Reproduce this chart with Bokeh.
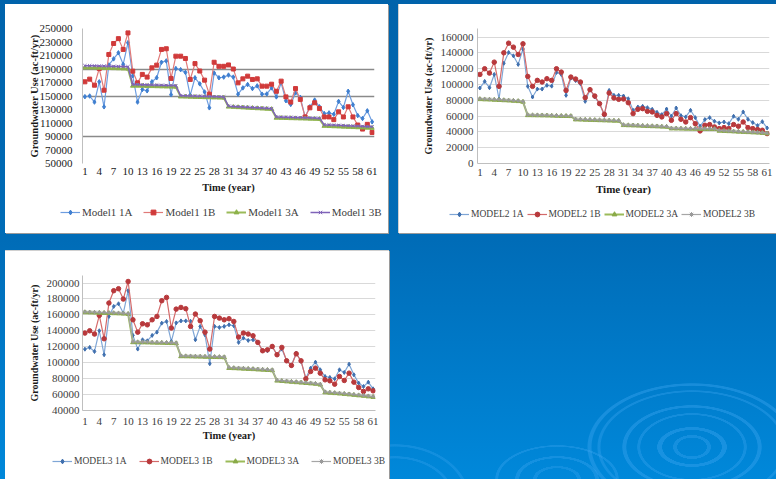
from bokeh.plotting import figure
from bokeh.models import FixedTicker, Legend, LegendItem, Range1d, ColumnDataSource, Spacer
from bokeh.layouts import column, row
from bokeh.embed import file_html
from bokeh.resources import INLINE

# ---------------- data ----------------
years = list(range(1, 62))
x_tick_labels = [1, 4, 7, 10, 13, 16, 19, 22, 25, 28, 31, 34, 37, 40, 43, 46, 49, 52, 55, 58, 61]

m1_names = ["Model1 1A", "Model1 1B", "Model1 3A", "Model1 3B"]
m1_1a = [149000, 150000, 141000, 171000, 134000, 196000, 205000, 214000, 197000, 229000,
         180000, 141000, 159600, 157700, 171000, 177000, 200000, 202000, 152000, 190700,
         189000, 185000, 151000, 177000, 168000, 156000, 132500, 184000, 177000, 178000,
         181000, 178000, 152700, 162000, 167000, 161000, 165000, 152700, 153000, 162000,
         148700, 169500, 143000, 137500, 154700, 148000, 119000, 134000, 144000, 134000,
         124000, 125000, 123000, 142000, 133000, 157000, 137000, 121000, 116700, 128000, 111700]
m1_1b = [171000, 175000, 166000, 190700, 158600, 211500, 227800, 235000, 219000, 243500,
         186800, 169500, 182000, 178000, 191700, 195700, 219000, 220000, 176000, 209000,
         209000, 205600, 174500, 198000, 187000, 173500, 152700, 200000, 194000, 194000,
         196000, 190000, 169500, 175400, 179400, 174500, 175400, 164600, 164600, 167500,
         157000, 172000, 148700, 141000, 161000, 145000, 119000, 132500, 140000, 131500,
         119000, 119000, 115000, 126500, 119000, 134000, 119000, 107000, 101000, 108000, 96000]
m1_3a = [192000, 192000, 191800, 191600, 191400, 191200, 191000, 190800, 190500, 190200,
         165000, 165000, 164800, 164600, 164400, 164200, 164000, 163800, 163600, 163400,
         149000, 148800, 148600, 148400, 148200, 148000, 147800, 147600, 147400, 147200,
         134000, 133600, 133200, 132800, 132400, 132000, 131600, 131200, 130800, 130400,
         117500, 117300, 117100, 116900, 116700, 116500, 116300, 116100, 115900, 115700,
         105500, 105200, 104900, 104600, 104300, 104000, 103700, 103400, 103100, 102800, 102500]
m1_3b = [195000, 195000, 194800, 194600, 194400, 194200, 194000, 193800, 193600, 193400,
         167000, 167000, 166800, 166600, 166400, 166200, 166000, 165800, 165600, 165400,
         150500, 150300, 150100, 149900, 149700, 149500, 149300, 149100, 148900, 148700,
         135000, 134600, 134200, 133800, 133400, 133000, 132600, 132200, 131800, 131400,
         119000, 118800, 118600, 118400, 118200, 118000, 117800, 117600, 117400, 117200,
         107500, 107200, 106900, 106600, 106300, 106000, 105700, 105400, 105100, 104800, 104500]
m1_y_ticks = [50000, 70000, 90000, 110000, 130000, 150000, 170000, 190000, 210000, 230000, 250000]
m1_grid = [90000, 150000, 190000]

m2_names = ["MODEL2 1A", "MODEL2 1B", "MODEL2 3A", "MODEL2 3B"]
m2_1a = [95600, 104000, 96000, 112800, 81700, 127000, 140600, 136400, 125500, 145000,
         97700, 84200, 94300, 94300, 99000, 98000, 115400, 112800, 86300, 108200,
         105000, 101000, 78700, 93500, 84200, 75800, 61000, 92600, 86300, 86300,
         85500, 82000, 67400, 71600, 72400, 70700, 68600, 64800, 61900, 69000,
         59800, 70300, 60600, 59000, 67400, 58100, 47200, 55600, 58100, 53500,
         51400, 52600, 50500, 59800, 56000, 65300, 56000, 51800, 48000, 53000, 45000]
m2_1b = [112800, 120000, 114500, 128400, 97700, 140200, 152400, 147400, 138100, 151600,
         110300, 97700, 105300, 103200, 107400, 105300, 120000, 115800, 92600, 109500,
         107000, 103200, 83400, 93500, 85500, 75800, 62300, 89300, 83000, 81300,
         81700, 77000, 63200, 68600, 69500, 66100, 65300, 61000, 59000, 63200,
         54700, 63200, 56000, 52600, 58100, 50500, 41300, 48400, 49300, 46300,
         44200, 45500, 44200, 49300, 47200, 52600, 45500, 44200, 43000, 42100, 37900]
m2_3a = [81300, 81000, 80800, 80500, 80200, 79900, 79600, 79200, 78800, 78000,
         61000, 60900, 60800, 60700, 60600, 60400, 60200, 60000, 59900, 59800,
         55600, 55400, 55200, 55000, 54800, 54600, 54400, 54200, 54000, 53900,
         48400, 48200, 48000, 47800, 47500, 47200, 47000, 46800, 46500, 46300,
         44200, 44100, 44000, 43900, 43800, 43700, 43600, 43500, 43400, 43400,
         41300, 41000, 40700, 40400, 40100, 39800, 39500, 39200, 38900, 38500, 37900]
m2_3b = [82000, 81700, 81500, 81200, 80900, 80600, 80300, 79900, 79500, 78700,
         61600, 61500, 61400, 61300, 61200, 61000, 60800, 60600, 60500, 60400,
         56200, 56000, 55800, 55600, 55400, 55200, 55000, 54800, 54600, 54500,
         49000, 48800, 48600, 48400, 48100, 47800, 47600, 47400, 47100, 46900,
         44800, 44700, 44600, 44500, 44400, 44300, 44200, 44100, 44000, 44000,
         41900, 41600, 41300, 41000, 40700, 40400, 40100, 39800, 39500, 39100, 38500]
m2_y_ticks = [0, 20000, 40000, 60000, 80000, 100000, 120000, 140000, 160000]

m3_names = ["MODEL3 1A", "MODEL3 1B", "MODEL3 3A", "MODEL3 3B"]
m3_1a = [117000, 119200, 114100, 140100, 110000, 158100, 170700, 174000, 162300, 190400,
         134300, 117100, 128800, 127500, 134300, 138400, 149700, 151800, 126700, 150000,
         152500, 152500, 152000, 128800, 145600, 135000, 98700, 145600, 144300, 145600,
         147600, 146400, 125500, 130900, 128000, 128800, 125500, 115000, 115000, 120400,
         110000, 117100, 102400, 96600, 112100, 101600, 80600, 93200, 100700, 91100,
         82700, 81500, 79800, 91100, 87800, 98200, 84800, 74400, 70100, 75600, 67200]
m3_1b = [137200, 140100, 136000, 159400, 130100, 174900, 190400, 192900, 179900, 202000,
         153900, 138400, 148900, 147600, 153900, 158100, 177800, 182000, 143500, 167300,
         169400, 167800, 145600, 161100, 152700, 138400, 117100, 158100, 156000, 153900,
         155200, 151800, 132200, 137200, 136000, 133800, 125500, 115000, 116200, 120400,
         110000, 119200, 102400, 96600, 111200, 102400, 79800, 89000, 93200, 86900,
         78500, 77300, 73100, 82700, 77700, 86900, 75600, 68900, 63900, 67200, 64700]
m3_3a = [163100, 162900, 162700, 162500, 162300, 162100, 161900, 161700, 161400, 161000,
         125500, 125400, 125300, 125200, 125000, 124900, 124800, 124600, 124400, 124200,
         107900, 107800, 107700, 107500, 107400, 107200, 107100, 106900, 106800, 106600,
         93200, 92900, 92600, 92300, 92000, 91700, 91300, 91000, 90600, 90300,
         77300, 76800, 76300, 75800, 75300, 74800, 74300, 73800, 73300, 72300,
         62600, 62100, 61600, 61100, 60600, 60000, 59400, 58800, 58200, 57500, 56800]
m3_3b = [163900, 163700, 163500, 163300, 163100, 162900, 162700, 162500, 162200, 161800,
         126300, 126200, 126100, 126000, 125800, 125700, 125600, 125400, 125200, 125000,
         108700, 108600, 108500, 108300, 108200, 108000, 107900, 107700, 107600, 107400,
         94000, 93700, 93400, 93100, 92800, 92500, 92100, 91800, 91400, 91100,
         78100, 77600, 77100, 76600, 76100, 75600, 75100, 74600, 74100, 73100,
         63400, 62900, 62400, 61900, 61400, 60800, 60200, 59600, 59000, 58300, 57600]
m3_y_ticks = [40000, 60000, 80000, 100000, 120000, 140000, 160000, 180000, 200000]

FONT = "Liberation Serif"


def make_panel(cfg):
    p = figure(width=cfg["w"], height=cfg["h"], output_backend="svg", toolbar_location=None,
               x_range=Range1d(0.5, 61.5), y_range=Range1d(cfg["y0"], cfg["y1"]),
               min_border_left=cfg["bl"], min_border_right=cfg["br"],
               min_border_top=cfg["bt"], min_border_bottom=cfg["bb"], frame_align=False)
    p.outline_line_color = None
    p.background_fill_color = "white"
    p.border_fill_color = "white"
    p.styles = {"background": "white"}

    p.xgrid.visible = False
    p.ygrid.ticker = FixedTicker(ticks=cfg["grid"])
    p.ygrid.grid_line_color = cfg["grid_color"]
    p.ygrid.grid_line_width = cfg["grid_width"]

    for ax in (p.xaxis[0], p.yaxis[0]):
        ax.major_tick_out = 0
        ax.major_tick_in = 0
        ax.minor_tick_out = 0
        ax.minor_tick_in = 0
        ax.major_label_text_font = FONT
        ax.major_label_text_font_size = cfg["tick_size"]
        ax.major_label_text_color = cfg["tick_color"]
        ax.axis_label_text_font = FONT
        ax.axis_label_text_font_style = "bold"
        ax.axis_label_text_color = "#1a1a1a"

    p.xaxis.ticker = FixedTicker(ticks=x_tick_labels)
    p.yaxis.ticker = FixedTicker(ticks=cfg["yticks"])
    p.yaxis.formatter.use_scientific = False
    p.xaxis.axis_label = "Time (year)"
    p.yaxis.axis_label = "Groundwater Use (ac-ft/yr)"
    p.xaxis.axis_label_text_font_size = cfg["xt_size"]
    p.yaxis.axis_label_text_font_size = cfg["yt_size"]
    p.xaxis.major_label_standoff = cfg["x_std"]
    p.xaxis.axis_label_standoff = cfg["x_lstd"]
    p.yaxis.major_label_standoff = cfg["y_std"]
    p.yaxis.axis_label_standoff = cfg["y_lstd"]
    p.yaxis.axis_line_color = "#bfbfbf"
    p.xaxis.axis_line_color = cfg["xaxis_line"]

    # legend strip below the chart, drawn inside its own small frame
    lg = figure(width=cfg["w"], height=cfg["lh"], output_backend="svg", toolbar_location=None,
                x_range=Range1d(0, 1), y_range=Range1d(0, 1), min_border=0,
                x_axis_location=None, y_axis_location=None, frame_align=False)
    lg.grid.visible = False
    lg.outline_line_color = None
    lg.background_fill_color = "white"
    lg.border_fill_color = "white"
    lg.styles = {"background": "white"}

    items = []
    for vals, name, st in zip(cfg["series"], cfg["names"], cfg["styles"]):
        src = ColumnDataSource(dict(x=years, y=vals))
        kw_line = dict(line_color=st["line"], line_width=st.get("lw", 1.2))
        kw_mark = dict(marker=st["marker"], size=st["size"], fill_color=st["mfill"],
                       line_color=st["mline"], line_width=1)
        p.line("x", "y", source=src, **kw_line)
        p.scatter("x", "y", source=src, **kw_mark)
        # key renderers: points far outside the strip's visible range
        key = ColumnDataSource(dict(x=[-50, -49], y=[-50, -50]))
        l2 = lg.line("x", "y", source=key, **kw_line)
        s2 = lg.scatter("x", "y", source=key, **kw_mark)
        items.append(LegendItem(label=name, renderers=[l2, s2]))

    leg = Legend(items=items, location=cfg["leg_loc"], orientation="horizontal",
                 spacing=cfg["leg_spacing"], padding=0, margin=0,
                 glyph_width=20, glyph_height=12, label_height=12, label_standoff=2,
                 label_text_font=FONT, label_text_font_size=cfg["leg_size"],
                 label_text_color="#404040",
                 background_fill_alpha=0, border_line_alpha=0)
    lg.add_layout(leg)
    box = dict(cfg["box"])
    box["background"] = "white"
    return column(p, lg, spacing=0, styles=box)


st1 = [
    dict(line="#6d9de0", mline="#3f7fd0", mfill="#3f7fd0", marker="diamond", size=4.5),
    dict(line="#e07a78", mline="#d03a3a", mfill="#d03a3a", marker="square", size=4),
    dict(line="#9bbb59", mline="#8db24a", mfill="#8db24a", marker="triangle", size=4.5, lw=2),
    dict(line="#7f63b8", mline="#7f63b8", mfill="#7f63b8", marker="x", size=4.5, lw=1.5),
]
st23 = [
    dict(line="#7fa6d6", mline="#3f6fae", mfill="#3f6fae", marker="diamond", size=4),
    dict(line="#d46a6a", mline="#b8393c", mfill="#b8393c", marker="circle", size=4.5),
    dict(line="#9bbb59", mline="#8aaa48", mfill="#8aaa48", marker="triangle", size=4.5, lw=2),
    dict(line="#a6a6a6", mline="#9a9a9a", mfill="#9a9a9a", marker="asterisk", size=4),
]

panel1 = make_panel(dict(
    w=383, h=196, lh=33, bl=77, br=14, bt=24, bb=37, y0=50000, y1=250000,
    yticks=m1_y_ticks, grid=m1_grid, grid_color="#8a8a8a", grid_width=1.5,
    series=[m1_1a, m1_1b, m1_3a, m1_3b], names=m1_names, styles=st1,
    tick_size="11px", tick_color="#1a1a1a", xt_size="10.5px", yt_size="10.5px",
    x_std=4, x_lstd=4, y_std=10, y_lstd=-3, xaxis_line=None,
    leg_loc=(55, 15), leg_spacing=11, leg_size="11px",
    box={"box-shadow": "1px 1px 0 0 #9a9a9a"}))

panel2 = make_panel(dict(
    w=377, h=196, lh=33, bl=78, br=7, bt=24, bb=37, y0=0, y1=171000,
    yticks=m2_y_ticks, grid=m2_y_ticks[1:], grid_color="#d9d9d9", grid_width=1,
    series=[m2_1a, m2_1b, m2_3a, m2_3b], names=m2_names, styles=st23,
    tick_size="11px", tick_color="#404040", xt_size="11px", yt_size="10px",
    x_std=5, x_lstd=4, y_std=4, y_lstd=4, xaxis_line="#bfbfbf",
    leg_loc=(50, 13), leg_spacing=3, leg_size="9.5px",
    box={"box-shadow": "-1px 0 0 0 #d0d0d0, 0 1px 0 0 #9a9a9a"}))

panel3 = make_panel(dict(
    w=384, h=198, lh=30, bl=77, br=14, bt=24, bb=39, y0=40000, y1=209500,
    yticks=m3_y_ticks, grid=m3_y_ticks[1:], grid_color="#d9d9d9", grid_width=1,
    series=[m3_1a, m3_1b, m3_3a, m3_3b], names=m3_names, styles=st23,
    tick_size="11px", tick_color="#404040", xt_size="10.5px", yt_size="10px",
    x_std=7, x_lstd=2, y_std=3, y_lstd=4, xaxis_line="#bfbfbf",
    leg_loc=(47, 12), leg_spacing=12, leg_size="9.5px",
    box={"box-shadow": "1px 0 0 0 #9a9a9a, 0 -1px 0 0 #d0d0d0"}))


def ring(cx, cy, rx, ry, w, a):
    inner = 100 - 100.0 * w / rx
    c = "rgba(60,165,240,%.2f)" % a
    return ("radial-gradient(ellipse %dpx %dpx at %dpx %dpx, transparent %.1f%%, %s %.1f%%, "
            "%s 99%%, transparent 100%%)" % (rx, ry, cx, cy, inner - 1, c, inner, c))


ripples = [
    ring(692, 447, 105, 64, 4, 0.40), ring(692, 447, 95, 57, 3, 0.35),
    ring(692, 447, 70, 42, 4, 0.40), ring(692, 447, 55, 34, 3, 0.35),
    ring(692, 447, 35, 20, 5, 0.40), ring(692, 447, 19, 12, 4, 0.35),
    ring(557, 479, 62, 34, 3, 0.35), ring(557, 479, 42, 23, 4, 0.35),
    ring(557, 479, 24, 13, 4, 0.30),
    ring(395, 500, 75, 56, 3, 0.30), ring(395, 500, 60, 44, 3, 0.30),
]
bg = ", ".join(ripples + ["linear-gradient(180deg, #0063ab 0%, #006cb7 50%, #0088da 100%)"])

layout = column(
    Spacer(width=776, height=4),
    row(Spacer(width=5, height=229), panel1, Spacer(width=11, height=229), panel2),
    Spacer(width=776, height=18),
    row(Spacer(width=5, height=228), panel3, Spacer(width=387, height=228)),
    styles={"background": bg})

open("out.html", "w").write(file_html(layout, INLINE))
